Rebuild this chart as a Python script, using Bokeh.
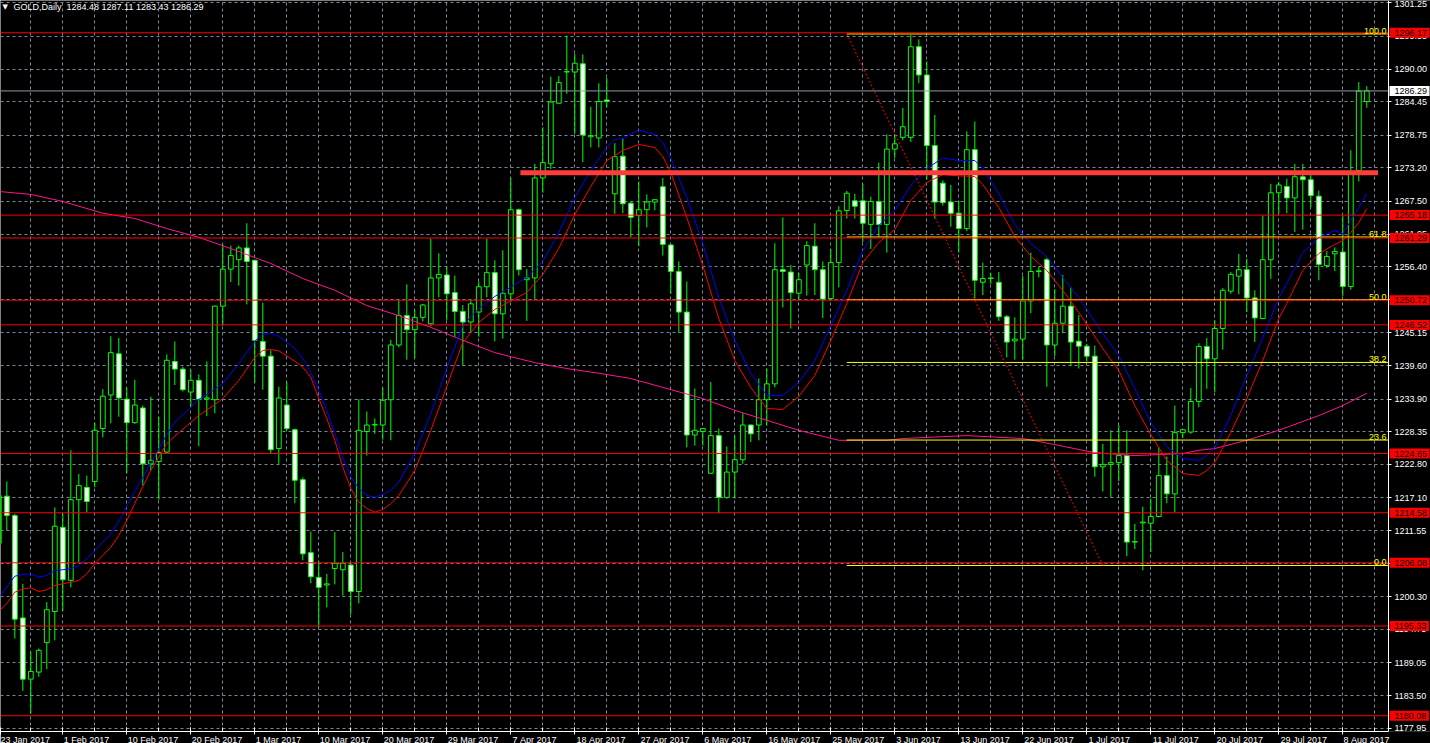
from bokeh.plotting import figure
from bokeh.models import (Range1d, FixedTicker, Label, ColumnDataSource, BoxAnnotation,
                          PrintfTickFormatter)
from bokeh.embed import file_html
from bokeh.resources import INLINE

# ---------------------------------------------------------------- data
symbol = "GOLD,Daily"

# bar index -1 .. 170 (Sunday bars included, 8 bars between date labels)
bars = list(range(-1, 171))

opens = [1209.4, 1217.4, 1214.1, 1196.7, 1186.3, 1187.5, 1192.5, 1197.8, 1212.1, 1203.1,
         1216.8, 1218.9, 1219.9, 1228.9, 1234.6, 1241.6, 1233.9, 1229.9, 1232.4, 1222.9,
         1223.3, 1224.9, 1240.3, 1239.0, 1235.1, 1237.1, 1233.9, 1233.8, 1249.7, 1256.0,
         1257.6, 1259.6, 1257.5, 1243.7, 1241.2, 1225.5, 1232.9, 1228.7, 1220.2, 1207.8,
         1203.6, 1202.3, 1205.1, 1204.9, 1205.7, 1201.2, 1228.4, 1229.5, 1229.5, 1233.8,
         1243.1,
         1248.1, 1245.7, 1247.8, 1246.7, 1254.5, 1255.0, 1252.0, 1248.8, 1247.0, 1248.7,
         1253.0, 1255.4, 1248.4, 1251.8, 1266.1, 1254.2, 1254.5, 1271.5, 1273.9, 1284.2,
         1289.5, 1289.5, 1290.9, 1278.5, 1278.3, 1284.75, 1268.8, 1275.2, 1267.2, 1265.1,
         1266.1, 1267.4, 1270.0, 1260.1, 1255.6, 1248.7, 1227.8, 1228.4, 1221.3, 1227.7,
         1217.2, 1221.5, 1223.6, 1229.5, 1229.5, 1233.8, 1236.5, 1255.9, 1255.5, 1251.9,
         1256.7, 1259.9, 1255.9, 1251.0, 1257.1, 1265.96, 1267.6, 1267.6, 1263.6, 1267.5,
         1263.6, 1276.4, 1278.4, 1278.4, 1293.8, 1289.0, 1277.0, 1270.6, 1267.4, 1265.5,
         1262.9, 1276.3, 1253.76, 1254.4, 1253.76, 1247.9, 1243.8, 1244.1, 1250.6, 1255.6,
         1257.6, 1243.1, 1246.8, 1249.7, 1243.75, 1242.9, 1241.2, 1222.4, 1222.8, 1223.1,
         1224.3, 1209.6, 1212.85, 1212.8, 1213.95, 1220.9, 1217.8, 1228.2, 1228.3, 1233.5,
         1242.85, 1240.75, 1245.9, 1252.25, 1254.8, 1255.9, 1251.1, 1247.6, 1257.6, 1268.97,
         1270.05, 1268.1, 1271.7, 1271.2, 1268.4, 1256.6, 1258.6, 1258.9, 1253.05, 1272.75,
         1284.48]

highs = [1218.5, 1219.9, 1214.4, 1202.5, 1190.9, 1191.5, 1199.4, 1215.5, 1214.4, 1225.2,
         1221.2, 1220.9, 1229.9, 1235.6, 1244.6, 1244.3, 1235.8, 1237.2, 1232.8, 1234.3,
         1230.9, 1241.5, 1243.7, 1239.4, 1238.9, 1238.1, 1240.3, 1249.8, 1260.2, 1260.0,
         1260.0, 1263.8, 1257.6, 1250.3, 1242.2, 1236.0, 1236.8, 1228.9, 1220.6, 1211.4,
         1206.3, 1204.2, 1211.3, 1207.9, 1205.9, 1233.9, 1231.8, 1230.6, 1235.8, 1244.0,
         1250.7,
         1253.4, 1249.1, 1250.1, 1261.2, 1258.7, 1256.3, 1254.9, 1249.9, 1250.7, 1253.9,
         1261.2, 1257.5, 1259.2, 1271.5, 1266.3, 1256.0, 1273.9, 1280.1, 1288.7, 1288.8,
         1295.7, 1292.6, 1292.5, 1283.6, 1287.6, 1288.5, 1277.4, 1278.2, 1267.5, 1270.9,
         1268.7, 1267.8, 1271.5, 1260.3, 1257.3, 1253.9, 1235.7, 1228.9, 1236.8, 1228.9,
         1225.85, 1227.7, 1231.5, 1229.6, 1237.4, 1239.1, 1260.4, 1264.8, 1256.7, 1255.4,
         1260.75, 1263.8, 1257.3, 1259.4, 1266.7, 1269.3, 1268.8, 1270.5, 1268.3, 1274.1,
         1278.9, 1278.95, 1283.4, 1295.8, 1295.05, 1291.3, 1282.2, 1271.1, 1270.3, 1267.6,
         1279.4, 1281.1, 1257.1, 1255.3, 1255.5, 1248.2, 1247.8, 1254.85, 1258.8, 1256.4,
         1257.9, 1252.6, 1255.0, 1252.9, 1248.2, 1243.3, 1243.0, 1226.3, 1228.6, 1229.5,
         1228.6, 1212.7, 1215.6, 1217.0, 1225.7, 1224.15, 1232.8, 1228.75, 1235.8, 1243.4,
         1244.3, 1247.3, 1252.8, 1255.5, 1258.6, 1257.75, 1252.4, 1265.1, 1270.5, 1270.8,
         1271.35, 1273.9, 1273.9, 1272.1, 1269.35, 1259.05, 1259.7, 1265.1, 1276.2, 1287.8,
         1287.11]

lows = [1207.5, 1211.6, 1193.2, 1184.3, 1180.4, 1186.7, 1188.0, 1192.9, 1197.9, 1201.9,
        1206.2, 1214.7, 1218.9, 1227.4, 1229.8, 1230.9, 1221.3, 1229.7, 1219.2, 1221.8,
        1216.8, 1224.7, 1236.3, 1235.2, 1232.5, 1225.9, 1231.0, 1231.5, 1246.4, 1253.8,
        1253.2, 1250.0, 1236.7, 1235.5, 1224.6, 1222.9, 1228.6, 1216.2, 1206.5, 1202.6,
        1195.1, 1198.5, 1202.4, 1200.5, 1197.3, 1199.2, 1224.3, 1228.0, 1227.0, 1226.9,
        1242.7,
        1240.6, 1240.9, 1247.1, 1246.3, 1251.2, 1247.3, 1244.5, 1239.6, 1245.3, 1244.5,
        1251.2, 1243.7, 1244.2, 1250.4, 1254.9, 1247.2, 1250.8, 1269.0, 1273.0, 1284.1,
        1285.8, 1279.0, 1274.2, 1276.7, 1276.7, 1283.5, 1265.4, 1265.5, 1261.4, 1259.9,
        1263.1, 1266.0, 1258.3, 1251.8, 1245.2, 1225.7, 1226.0, 1226.0, 1221.2, 1214.5,
        1216.96, 1217.0, 1222.9, 1226.6, 1226.9, 1229.4, 1235.9, 1249.5, 1245.9, 1250.7,
        1251.5, 1251.6, 1247.7, 1250.6, 1252.9, 1264.6, 1264.6, 1260.6, 1259.4, 1261.5,
        1258.8, 1274.9, 1277.9, 1277.6, 1287.6, 1271.2, 1264.6, 1266.8, 1263.2, 1258.8,
        1262.45, 1251.0, 1251.6, 1253.5, 1247.2, 1241.0, 1240.6, 1240.6, 1248.5, 1254.6,
        1236.0, 1241.2, 1245.1, 1239.5, 1239.1, 1240.3, 1220.7, 1218.2, 1217.2, 1219.95,
        1207.2, 1208.4, 1204.8, 1207.9, 1213.8, 1216.2, 1214.7, 1227.3, 1228.0, 1232.5,
        1235.65, 1235.1, 1242.3, 1251.8, 1251.7, 1248.7, 1243.6, 1247.5, 1254.35, 1265.5,
        1265.5, 1262.3, 1262.7, 1266.5, 1254.1, 1256.2, 1255.65, 1251.4, 1252.5, 1270.9,
        1283.43]

closes = [1217.5, 1214.1, 1196.5, 1186.3, 1187.6, 1191.2, 1198.1, 1212.3, 1203.2, 1216.8,
          1219.2, 1216.5, 1228.6, 1234.4, 1241.8, 1234.1, 1229.9, 1232.9, 1222.9, 1223.5,
          1224.8, 1240.5, 1239.0, 1235.5, 1237.1, 1233.9, 1234.1, 1249.7, 1256.0, 1258.3,
          1259.6, 1257.3, 1243.9, 1241.2, 1225.3, 1234.1, 1228.9, 1220.1, 1207.6, 1203.7,
          1201.9, 1202.5, 1206.0, 1206.0, 1201.2, 1228.6, 1229.5, 1229.6, 1233.7, 1243.1,
          1248.1,
          1245.7, 1247.8, 1249.9, 1254.5, 1255.1, 1251.8, 1248.8, 1247.0, 1250.1, 1253.0,
          1255.4, 1248.4, 1251.9, 1266.1, 1255.9, 1254.5, 1271.5, 1274.1, 1284.4, 1287.7,
          1289.6, 1291.0, 1278.8, 1278.7, 1284.5, 1284.5, 1275.1, 1267.1, 1264.8, 1266.1,
          1267.4, 1267.8, 1260.2, 1255.6, 1248.7, 1227.8, 1228.6, 1228.9, 1227.7, 1217.2,
          1221.5, 1223.6, 1229.5, 1228.0, 1233.8, 1236.5, 1255.9, 1255.6, 1252.0, 1254.2,
          1260.0, 1255.9, 1250.9, 1257.1, 1265.9, 1268.9, 1266.7, 1263.8, 1267.5, 1263.6,
          1276.4, 1277.3, 1280.2, 1293.8, 1289.0, 1277.0, 1267.4, 1267.3, 1265.5, 1262.9,
          1276.3, 1254.1, 1254.4, 1254.5, 1247.9, 1243.6, 1244.1, 1250.6, 1255.6, 1255.7,
          1243.1, 1246.8, 1249.7, 1243.6, 1242.9, 1241.2, 1222.4, 1222.8, 1223.1, 1224.3,
          1209.6, 1209.7, 1213.0, 1213.95, 1220.9, 1217.8, 1228.2, 1228.7, 1233.5, 1242.85,
          1240.75, 1245.9, 1252.4, 1255.1, 1255.9, 1251.1, 1247.7, 1257.6, 1268.97, 1270.3,
          1268.1, 1271.7, 1271.2, 1268.5, 1256.8, 1258.15, 1259.0, 1253.05, 1272.5, 1286.25,
          1286.29]

# channel moving averages (blue upper / red lower), sampled by bar
ma_bars = [-1, 0, 1, 2, 3, 4, 5, 6, 7, 8, 9, 10, 11, 12, 13, 14, 15, 16, 17, 18, 20, 21,
           24, 26, 27, 29, 31, 32, 33, 34, 36, 37, 38, 39, 40, 41, 42, 43, 44, 45, 46, 47,
           48, 49, 51, 53, 55, 57, 59, 61, 65, 67, 69, 71, 73, 75, 76, 77, 79, 81, 82, 83,
           85, 87, 89, 91, 93, 95, 97, 99, 101, 103, 105, 107, 109, 111, 113, 115, 117,
           119, 121, 122, 124, 126, 128, 130, 132, 134, 137, 139, 141, 143, 145, 147, 149,
           150, 151, 153, 155, 157, 159, 160, 162, 164, 166, 167, 168, 169, 170]
ma_blue = [1200.23, 1201.93, 1203.80, 1204.09, 1204.21, 1203.63, 1203.92, 1204.77, 1204.89,
           1205.06, 1205.62, 1206.76, 1208.17, 1209.58, 1211.01, 1213.10, 1215.70, 1218.20,
           1220.58, 1223.01, 1227.89, 1229.98, 1233.84, 1235.54, 1236.56, 1239.96, 1243.75,
           1244.89, 1245.06, 1244.60, 1242.51, 1240.81, 1238.48, 1235.37, 1231.97, 1228.06,
           1224.03, 1220.63, 1218.71, 1217.52, 1217.23, 1217.69, 1218.37, 1219.78, 1224.66,
           1231.41, 1239.11, 1246.42, 1249.31, 1251.35, 1254.58, 1257.30, 1262.23, 1268.17,
           1272.76, 1276.67, 1278.03, 1278.20, 1279.68, 1278.88, 1277.52, 1274.80, 1268.17,
           1260.35, 1251.18, 1243.87, 1238.26, 1234.52, 1234.52, 1236.73, 1240.47, 1246.42,
           1252.37, 1259.16, 1263.41, 1265.96, 1270.21, 1273.10, 1274.89, 1274.46, 1274.46,
           1273.10, 1268.85, 1263.58, 1260.35, 1258.14, 1254.57, 1251.18, 1245.06, 1241.32,
           1235.71, 1229.93, 1225.85, 1223.81, 1223.47, 1224.32, 1225.68, 1231.12, 1237.92,
           1244.38, 1251.18, 1253.56, 1258.82, 1261.37, 1262.56, 1262.05, 1264.26, 1266.47,
           1268.85]
ma_red = [1197.85, 1199.11, 1201.08, 1201.66, 1201.83, 1201.20, 1201.49, 1202.22, 1202.51,
          1202.78, 1203.07, 1204.21, 1205.91, 1207.32, 1208.73, 1210.72, 1213.27, 1216.16,
          1219.05, 1221.77, 1226.36, 1227.60, 1231.12, 1232.99, 1234.01, 1237.07, 1240.98,
          1242.17, 1242.34, 1242.12, 1240.35, 1239.33, 1237.63, 1234.01, 1230.61, 1226.87,
          1222.33, 1218.71, 1216.38, 1215.31, 1214.68, 1215.14, 1216.11, 1217.52, 1221.77,
          1228.57, 1236.05, 1243.53, 1246.93, 1249.14, 1252.03, 1255.09, 1259.50, 1265.28,
          1270.04, 1274.46, 1275.31, 1276.16, 1277.18, 1276.67, 1275.14, 1272.42, 1264.77,
          1256.61, 1247.61, 1240.47, 1235.88, 1232.31, 1232.14, 1234.35, 1237.92, 1243.87,
          1250.16, 1257.12, 1260.53, 1262.73, 1267.66, 1270.72, 1272.08, 1271.85, 1271.74,
          1270.38, 1266.47, 1261.54, 1258.20, 1255.76, 1252.37, 1248.63, 1242.51, 1238.77,
          1232.82, 1227.84, 1223.47, 1221.26, 1220.92, 1221.77, 1223.13, 1228.23, 1234.01,
          1240.47, 1247.61, 1250.16, 1255.76, 1258.65, 1260.18, 1260.86, 1262.22, 1263.92,
          1266.30]

# long moving average
slow_bars = [-1, 3, 7, 12, 16, 20, 24, 28, 33, 37, 41, 45, 49, 53, 57, 61, 66, 70, 74, 78,
             82, 87, 91, 95, 99, 104, 110, 112, 120, 127, 129, 136, 141, 147, 149, 151, 155,
             159, 164, 167, 170]
slow_ma = [1269.2, 1268.7, 1267.5, 1265.5, 1264.6, 1262.9, 1261.4, 1259.5, 1256.95, 1254.4,
           1252.4, 1249.8, 1248.1, 1246.1, 1243.9, 1241.8, 1240.1, 1239.1, 1238.3, 1237.4,
           1235.9, 1234.0, 1232.0, 1230.3, 1228.6, 1226.9, 1226.9, 1227.2, 1227.7, 1227.2,
           1226.7, 1224.8, 1224.3, 1224.65, 1225.2, 1225.5, 1226.9, 1228.6, 1231.1, 1232.8,
           1234.9]

# horizontal levels
red_levels = [1296.17, 1265.18, 1261.29, 1250.72, 1246.52, 1224.65, 1214.58, 1206.08,
              1195.33, 1180.08]
resistance = 1272.4
resistance_bars = (64.2, 171.4)

# Fibonacci retracement
fib_bars = (105, 137)
fib_high = 1295.97
fib_low = 1205.62
fib_ratios = [1.0, 0.618, 0.5, 0.382, 0.236, 0.0]
fib_texts = ["100.0", "61.8", "50.0", "38.2", "23.6", "0.0"]

# axis ticks
price_ticks = [1177.95, 1183.50, 1189.05, 1194.75, 1200.30, 1206.00, 1211.55, 1217.10,
               1222.80, 1228.35, 1233.90, 1239.60, 1245.15, 1250.85, 1256.40, 1261.95,
               1267.50, 1273.20, 1278.75, 1284.45, 1290.00, 1295.55, 1301.25]
date_bars = list(range(-1, 168, 8))
date_labels = ["23 Jan 2017", "1 Feb 2017", "10 Feb 2017", "20 Feb 2017", "1 Mar 2017",
               "10 Mar 2017", "20 Mar 2017", "29 Mar 2017", "7 Apr 2017", "18 Apr 2017",
               "27 Apr 2017", "6 May 2017", "16 May 2017", "25 May 2017", "3 Jun 2017",
               "13 Jun 2017", "22 Jun 2017", "1 Jul 2017", "11 Jul 2017", "20 Jul 2017",
               "29 Jul 2017", "8 Aug 2017"]
grid_bars = list(range(3, 173, 4))

# ---------------------------------------------------------------- styling
FONT = "Liberation Sans"
FSIZE = "9px"
CANDLE = "#00FF00"
GRID = "#778899"
NBSP = "\u00a0"

# approximate advance widths (em) of Liberation Sans, used to start the
# date labels at their tick instead of centring them on it
_ADV = {" ": 0.278, "J": 0.5, "F": 0.611, "M": 0.833, "A": 0.667, "r": 0.333,
        "y": 0.5, "l": 0.222}


def left_aligned(text):
    width = sum(_ADV.get(ch, 0.556) for ch in text)
    pad = int(round(width / 0.278)) + 1
    return NBSP * pad + text.replace(" ", NBSP)


# the frame spans the whole canvas; the price scale sits at a fixed bar
# position inside it, leaving its right strip for scale labels and tags
x_lo, x_hi = -0.7875, 177.9625
x_scale = 172.7125
y_lo, y_hi = 1177.40, 1301.66

p = figure(frame_width=1430, frame_height=731,
           x_range=Range1d(x_lo, x_hi), y_range=Range1d(y_lo, y_hi),
           y_axis_location="right", output_backend="svg", toolbar_location=None,
           min_border_left=0, min_border_top=0, min_border_right=0, min_border_bottom=0,
           background_fill_color="black", border_fill_color="black",
           outline_line_color=None)

# grid (kept under a black strip behind the price scale)
p.xgrid.ticker = FixedTicker(ticks=grid_bars)
p.ygrid.ticker = FixedTicker(ticks=price_ticks)
for g in (p.xgrid[0], p.ygrid[0]):
    g.grid_line_color = GRID
    g.grid_line_dash = "3 3"
    g.grid_line_width = 1
    g.level = "image"
p.add_layout(BoxAnnotation(left=x_scale, right=x_hi, bottom=y_lo, top=y_hi,
                           fill_color="black", fill_alpha=1.0, line_color=None,
                           level="underlay"))

# x axis
label_pos = [max(b, x_lo + 0.02) for b in date_bars]
label_txt = [date_labels[0]] + [left_aligned(t) for t in date_labels[1:]]
xax = p.xaxis[0]
xax.ticker = FixedTicker(ticks=label_pos, minor_ticks=grid_bars)
xax.major_label_overrides = {pos: t for pos, t in zip(label_pos, label_txt)}
xax.bounds = (x_lo, x_scale)
xax.axis_line_color = "white"
xax.major_tick_line_color = "white"
xax.minor_tick_line_color = "white"
xax.major_tick_in = 4
xax.major_tick_out = 3
xax.minor_tick_in = 4
xax.minor_tick_out = 0
xax.major_label_standoff = 0
xax.major_label_text_color = "white"
xax.major_label_text_font = FONT
xax.major_label_text_font_size = FSIZE

# y axis, pinned at the price-scale position
yax = p.yaxis[0]
yax.fixed_location = x_scale
yax.ticker = FixedTicker(ticks=price_ticks)
yax.formatter = PrintfTickFormatter(format="%.2f")
yax.axis_line_color = "white"
yax.major_tick_line_color = "white"
yax.minor_tick_line_color = None
yax.major_tick_in = 0
yax.major_tick_out = 3
yax.major_label_standoff = 3
yax.major_label_text_color = "white"
yax.major_label_text_font = FONT
yax.major_label_text_font_size = FSIZE

# candles
up = [c >= o for o, c in zip(opens, closes)]
src = ColumnDataSource(dict(
    bar=bars, high=highs, low=lows,
    top=[max(o, c) for o, c in zip(opens, closes)],
    bottom=[min(o, c) for o, c in zip(opens, closes)],
    fill=["black" if u else "white" for u in up],
))
p.segment(x0="bar", y0="low", x1="bar", y1="high", source=src,
          line_color=CANDLE, line_width=1)
p.vbar(x="bar", width=0.6, top="top", bottom="bottom", source=src,
       fill_color="fill", line_color=CANDLE, line_width=1)

# moving averages
p.line(slow_bars, slow_ma, line_color="#FF1493", line_width=1)
p.line(ma_bars, ma_blue, line_color="#0000FF", line_width=1)
p.line(ma_bars, ma_red, line_color="#FF0000", line_width=1)

# Fibonacci
fib_prices = [fib_low + r * (fib_high - fib_low) for r in fib_ratios]
m = len(fib_prices)
p.segment(x0=[fib_bars[0]] * m, y0=fib_prices, x1=[x_scale] * m, y1=fib_prices,
          line_color="#FFFF00", line_width=1)
p.line([fib_bars[0], fib_bars[1]], [fib_high, fib_low], line_color="#FF0000",
       line_width=1, line_dash="2 2")
for txt, pr in zip(fib_texts, fib_prices):
    p.add_layout(Label(x=1386, y=pr, x_units="screen", y_units="data", text=txt,
                       text_align="right", text_baseline="bottom", text_color="#FFFF00",
                       text_font=FONT, text_font_size=FSIZE))

# horizontal levels
n = len(red_levels)
p.segment(x0=[x_lo] * n, y0=red_levels, x1=[x_scale] * n, y1=red_levels,
          line_color="#FF0000", line_width=1)
last_close = closes[-1]
p.segment(x0=[x_lo], y0=[last_close], x1=[x_scale], y1=[last_close],
          line_color="#8C9AAA", line_width=1)
p.segment(x0=[resistance_bars[0]], y0=[resistance], x1=[resistance_bars[1]], y1=[resistance],
          line_color="#FF3C3C", line_width=5)


# price tags on the scale
def tag(level, colour):
    p.add_layout(Label(x=1389, y=level, x_units="screen", y_units="data",
                       text=f"{NBSP}{NBSP}{level:.2f}{NBSP}", text_align="left",
                       text_baseline="middle", text_color="black",
                       text_font=FONT, text_font_size=FSIZE,
                       background_fill_color=colour))


for lvl in red_levels:
    tag(lvl, "#FF0000")
tag(last_close, "white")

# header
p.add_layout(Label(x=2, y=725, x_units="screen", y_units="screen", text="\u25bc",
                   text_baseline="middle", text_color="white",
                   text_font="DejaVu Sans", text_font_size="7px"))
header = f"{symbol}{NBSP}{NBSP}{opens[-1]:.2f} {highs[-1]:.2f} {lows[-1]:.2f} {closes[-1]:.2f}"
p.add_layout(Label(x=13, y=725, x_units="screen", y_units="screen", text=header,
                   text_baseline="middle", text_color="white",
                   text_font=FONT, text_font_size=FSIZE))

open("out.html", "w").write(file_html(p, INLINE))
